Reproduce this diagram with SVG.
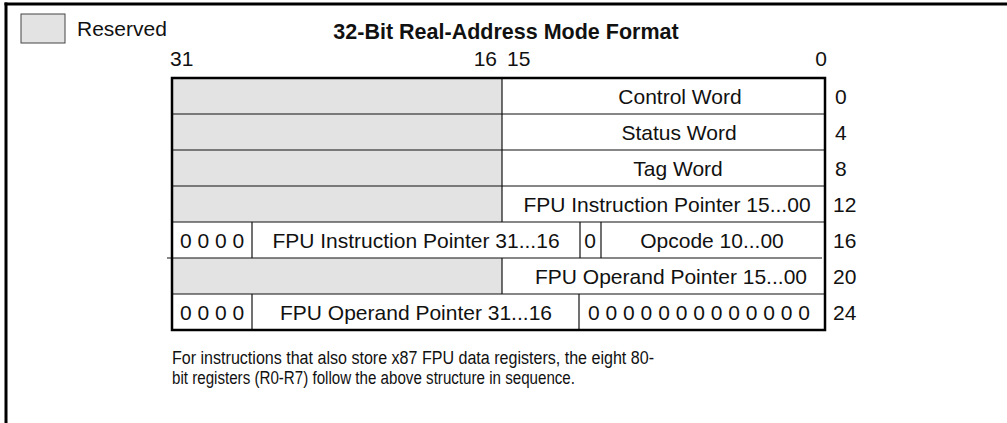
<svg xmlns="http://www.w3.org/2000/svg" width="1007" height="423" viewBox="0 0 1007 423">
<style>
  .t{font-family:"Liberation Sans",Arial,sans-serif;font-size:21px;fill:#111}
  .c{text-anchor:middle}
  .b{font-weight:bold;font-size:21.5px}
  .fn{font-family:"Liberation Sans",Arial,sans-serif;font-size:18px;fill:#111}
  .res{fill:#e3e3e3;stroke:none}
  .ln{stroke:#111;stroke-width:1.2;fill:none}
  .bd{stroke:#000;stroke-width:2.5;fill:none}
</style>
<g id="frame">
  <line x1="4.5" y1="4" x2="1007" y2="4" stroke="#000" stroke-width="3"/>
  <line x1="6" y1="2.5" x2="6" y2="423" stroke="#000" stroke-width="3"/>
</g>
<g id="legend">
  <rect x="21" y="14" width="44" height="29" fill="#e3e3e3" stroke="#444" stroke-width="1"/>
  <text class="t" x="77" y="36">Reserved</text>
</g>
<g id="title">
  <text class="t b c" x="506" y="39">32-Bit Real-Address Mode Format</text>
</g>
<g id="bit-labels">
  <text class="t" x="170" y="66">31</text>
  <text class="t" x="497" y="66" text-anchor="end">16</text>
  <text class="t" x="507" y="66">15</text>
  <text class="t" x="827" y="66" text-anchor="end">0</text>
</g>
<g id="reserved-fills">
  <rect class="res" x="172" y="78" width="330" height="108"/>
  <rect class="res" x="172" y="186" width="330" height="36"/>
  <rect class="res" x="172" y="258" width="330" height="36"/>
</g>
<g id="row-0">
  <text class="t c" x="680" y="103.5">Control Word</text>
  <text class="t" x="835" y="103.5">0</text>
</g>
<g id="row-4">
  <text class="t c" x="679" y="139.5">Status Word</text>
  <text class="t" x="835" y="139.5">4</text>
</g>
<g id="row-8">
  <text class="t c" x="678" y="175.5">Tag Word</text>
  <text class="t" x="835" y="175.5">8</text>
</g>
<g id="row-12">
  <text class="t c" x="667" y="211.5">FPU Instruction Pointer 15...00</text>
  <text class="t" x="833" y="211.5">12</text>
</g>
<g id="row-16">
  <text class="t c" x="212" y="247.5">0 0 0 0</text>
  <text class="t c" x="416" y="247.5">FPU Instruction Pointer 31...16</text>
  <text class="t c" x="590" y="247.5">0</text>
  <text class="t c" x="712" y="247.5">Opcode 10...00</text>
  <text class="t" x="833" y="247.5">16</text>
</g>
<g id="row-20">
  <text class="t c" x="671" y="283.5">FPU Operand Pointer 15...00</text>
  <text class="t" x="833" y="283.5">20</text>
</g>
<g id="row-24">
  <text class="t c" x="212" y="319.5">0 0 0 0</text>
  <text class="t c" x="416" y="319.5">FPU Operand Pointer 31...16</text>
  <text class="t c" x="699" y="319.5">0 0 0 0 0 0 0 0 0 0 0 0 0</text>
  <text class="t" x="833" y="319.5">24</text>
</g>
<g id="grid">
  <line class="ln" x1="172" y1="114" x2="825" y2="114"/>
  <line class="ln" x1="172" y1="150" x2="825" y2="150"/>
  <line class="ln" x1="172" y1="186" x2="825" y2="186"/>
  <line class="ln" x1="172" y1="222" x2="825" y2="222"/>
  <line class="ln" x1="167" y1="258" x2="822" y2="258"/>
  <line class="ln" x1="172" y1="294" x2="825" y2="294"/>
  <line class="ln" x1="502" y1="78" x2="502" y2="222"/>
  <line class="ln" x1="502" y1="258" x2="502" y2="294"/>
  <line class="ln" x1="252" y1="222" x2="252" y2="258"/>
  <line class="ln" x1="580" y1="222" x2="580" y2="258"/>
  <line class="ln" x1="601" y1="222" x2="601" y2="258"/>
  <line class="ln" x1="252" y1="294" x2="252" y2="330"/>
  <line class="ln" x1="579" y1="294" x2="579" y2="330"/>
  <rect class="bd" x="172" y="78" width="653" height="252"/>
</g>
<g id="footnote">
  <text class="fn" x="172" y="364" textLength="482" lengthAdjust="spacingAndGlyphs">For instructions that also store x87 FPU data registers, the eight 80-</text>
  <text class="fn" x="172" y="384" textLength="403" lengthAdjust="spacingAndGlyphs">bit registers (R0-R7) follow the above structure in sequence.</text>
</g>
</svg>
